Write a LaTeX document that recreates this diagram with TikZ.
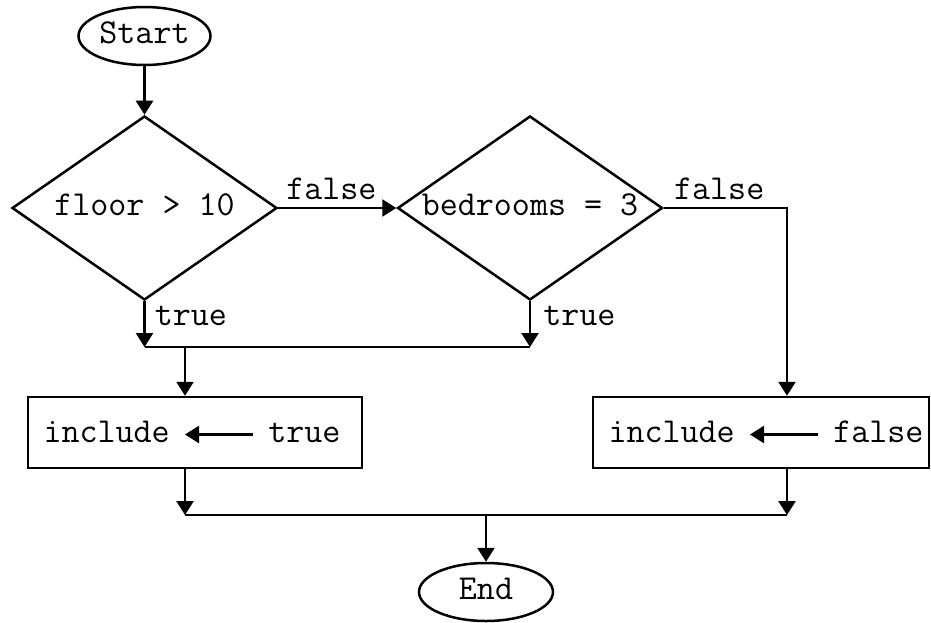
\documentclass[tikz,border=0pt]{standalone}
\usepackage{tikz}
\usetikzlibrary{positioning,shapes.geometric,arrows.meta}

\begin{document}
\begin{tikzpicture}[x=1pt,y=-1pt,
        font=\ttfamily\fontsize{35}{40}\selectfont,
        txt/.style={text height=22pt,text depth=7pt,inner sep=0pt},
        terminal/.style={ellipse,draw,txt,minimum width=132pt,minimum height=58pt},
        decision/.style={diamond,draw,txt,shape aspect=1.45,minimum width=265pt,minimum height=184pt},
        process/.style={rectangle,draw,txt,minimum height=71pt},
        lbl/.style={txt},
        word/.style={txt,inner xsep=14pt},
        line/.style={-{Triangle[length=14pt,width=17pt]}},
        line width=2.5pt]
    \path[use as bounding box,fill=white] (0,0) rectangle (931,622);

    \node[terminal] (start) at (144.5,36)  {Start};
    \node[decision] (d1)    at (144.5,208) {floor > 10};
    \node[decision] (d2)    at (530,208) {bedrooms = 3};
    \node[process,minimum width=334pt] (b1) at (195,432.5) {};
    \node[process,minimum width=336pt] (b2) at (761,432.5) {};
    \node[terminal,minimum width=134pt] (stop) at (486,592) {End};

    % text inside the boxes
    \node[word,anchor=east] (inc1) at (185,434.5) {include};
    \node[word,anchor=west] (val1) at (253,434.5) {true};
    \node[word,anchor=east] (inc2) at (750,434.5) {include};
    \node[word,anchor=west] (val2) at (818,434.5) {false};
    \draw[line] (val1.west) -- (inc1.east);
    \draw[line] (val2.west) -- (inc2.east);

    \coordinate (upper) at (185,347);
    \coordinate (lower) at (486,515);
    \coordinate (fcol)  at (787,208);

    \draw[line] (start) -- (d1);
    \draw[line] (d1.east) -- node[lbl,anchor=south,pos=0.45] {false} (d2.west);
    \draw[line] (d2.east) -- node[lbl,anchor=south,pos=0.45] {false} (fcol) -- (fcol |- b2.north);
    \draw[line] (d1.south) -- node[lbl,anchor=north west,pos=0,xshift=9pt,yshift=-1pt] {true} (d1.south |- upper);
    \draw[line] (d2.south) -- node[lbl,anchor=north west,pos=0,xshift=12pt,yshift=-1pt] {true} (d2.south |- upper);
    \draw (d1.south |- upper) -- (d2.south |- upper);
    \draw[line] (upper) -- (upper |- b1.north);
    \draw[line] (upper |- b1.south) -- (upper |- lower);
    \draw[line] (fcol |- b2.south) -- (fcol |- lower);
    \draw (upper |- lower) -- (fcol |- lower);
    \draw[line] (lower) -- (stop);
\end{tikzpicture}
\end{document}
